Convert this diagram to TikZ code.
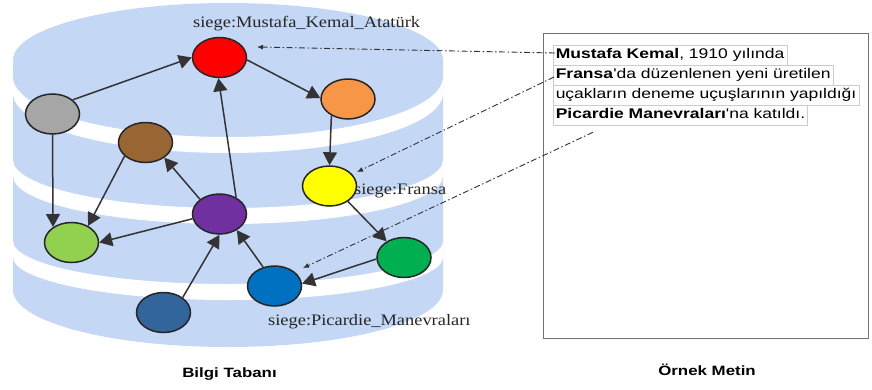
\documentclass[tikz,border=0pt]{standalone}
\usepackage{fontspec}
\setmainfont{Liberation Serif}
\setsansfont{Liberation Sans}
\usepackage{graphicx}
\usetikzlibrary{shapes.geometric,arrows.meta,calc}
\definecolor{cyl}{RGB}{196,215,245}
\definecolor{cred}{RGB}{255,0,0}
\definecolor{corange}{RGB}{247,150,70}
\definecolor{cgray}{RGB}{166,166,166}
\definecolor{cbrown}{RGB}{153,102,51}
\definecolor{cyellow}{RGB}{255,255,0}
\definecolor{cpurple}{RGB}{112,48,160}
\definecolor{clgreen}{RGB}{146,208,80}
\definecolor{cgreen}{RGB}{0,176,80}
\definecolor{cblue}{RGB}{0,112,192}
\definecolor{cdblue}{RGB}{49,101,155}
\newcommand{\sstretch}[1]{\scalebox{1.15}[1]{#1}}
\newcommand{\wstretch}[1]{\scalebox{1.25}[1]{#1}}
\begin{document}
\begin{tikzpicture}[x=1pt,y=1pt,
  kn/.style={ellipse, draw=black!85, line width=1.5pt, minimum width=54pt, minimum height=40pt, inner sep=0pt},
  edge/.style={draw=black!80, line width=1.5pt, -{Triangle[length=13pt,width=14pt]}},
  ref/.style={draw=black!80, line width=0.9pt, dash pattern=on 6pt off 2.5pt on 1.5pt off 2.5pt, -{Latex[length=6pt,width=5pt]}},
  lab/.style={font=\fontsize{16}{18}\selectfont, inner sep=0pt, text=black!85},
  linebox/.style={draw=black!20, line width=0.5pt, font=\sffamily\fontsize{14}{16}\selectfont, inner xsep=2.5pt, inner ysep=0pt, minimum height=20pt, text height=10.5pt, text depth=3pt, anchor=west},
  capt/.style={font=\sffamily\bfseries\fontsize{13.5}{16}\selectfont, inner sep=0pt, anchor=base}]
\useasboundingbox (0,0) rectangle (872,-389);
% cylinder
\fill[cyl] (13,-60) arc[start angle=180,end angle=0,x radius=215pt,y radius=57pt]
  -- (443,-290) arc[start angle=0,end angle=-180,x radius=215pt,y radius=57pt] -- cycle;
\fill[white] (13,-77) arc[start angle=180,end angle=360,x radius=215pt,y radius=60pt]
  -- ++(0,-16) arc[start angle=360,end angle=180,x radius=215pt,y radius=60pt] -- cycle;
\fill[white] (13,-160) arc[start angle=180,end angle=360,x radius=215pt,y radius=48pt]
  -- ++(0,-16) arc[start angle=360,end angle=180,x radius=215pt,y radius=48pt] -- cycle;
\fill[white] (13,-241) arc[start angle=180,end angle=360,x radius=215pt,y radius=43pt]
  -- ++(0,-16) arc[start angle=360,end angle=180,x radius=215pt,y radius=43pt] -- cycle;
% labels
\node[lab, anchor=base west] (lm) at (193,-27) {\sstretch{siege:Mustafa\_Kemal\_Atatürk}};
\node[lab, anchor=base west] (lf) at (354,-194) {\sstretch{siege:Fransa}};
\node[lab, anchor=base west] (lp) at (268,-325) {\sstretch{siege:Picardie\_Manevraları}};
% nodes
\node[kn, fill=cred] (red) at (219.5,-57.5) {};
\node[kn, fill=corange] (orange) at (348,-99) {};
\node[kn, fill=cgray] (gray) at (52.5,-114) {};
\node[kn, fill=cbrown] (brown) at (145.5,-142.5) {};
\node[kn, fill=cyellow] (yellow) at (329.5,-186) {};
\node[kn, fill=cpurple] (purple) at (219.5,-214) {};
\node[kn, fill=clgreen] (lgreen) at (71.5,-242.5) {};
\node[kn, fill=cgreen] (green) at (404,-257.5) {};
\node[kn, fill=cblue] (blue) at (274.5,-286) {};
\node[kn, fill=cdblue] (dblue) at (163.5,-312.5) {};
% edges
\draw[edge] (gray.35) -- (red.180);
\draw[edge] (red.-5) -- (orange.178);
\draw[edge] (orange.225) -- (yellow.90);
\draw[edge] (yellow.-40) -- (green.137);
\draw[edge] (green.183) -- (blue.5);
\draw[edge] (blue.121) -- (purple.-43);
\draw[edge] (dblue.38) -- (purple.-90);
\draw[edge] (purple.45) -- (red.-93);
\draw[edge] (purple.143) -- (brown.-39);
\draw[edge] (purple.190) -- (lgreen.0);
\draw[edge] (brown.213) -- (lgreen.45);
\draw[edge] (gray.-90) -- (lgreen.140);
% text box
\node[draw=black!55, line width=1.3pt, minimum width=325pt, minimum height=305pt, inner sep=0pt, anchor=north west] (box) at (543,-33) {};
\node[linebox] (l1) at (553,-55) {\wstretch{\textbf{Mustafa Kemal}, 1910 yılında}};
\node[linebox] (l2) at (553,-75) {\wstretch{\textbf{Fransa}\textquotesingle da düzenlenen yeni üretilen}};
\node[linebox] (l3) at (553,-95) {\wstretch{uçakların deneme uçuşlarının yapıldığı}};
\node[linebox] (l4) at (553,-115) {\wstretch{\textbf{Picardie Manevraları}\textquotesingle na katıldı.}};
% reference connectors
\coordinate (t1) at (257,-47);
\coordinate (t2) at (357,-172);
\coordinate (t3) at (303,-268);
\draw[ref] ($(l1.west)+(2,2)$) -- (t1);
\draw[ref] ($(l2.west)+(1,-2)$) -- (t2);
\draw[ref] ($(l4.south west)+(40,-7)$) -- (t3);
% captions
\node[capt] (c1) at (229.5,-377) {\wstretch{Bilgi Tabanı}};
\node[capt] (c2) at (707,-375) {\wstretch{Örnek Metin}};
\end{tikzpicture}
\end{document}
